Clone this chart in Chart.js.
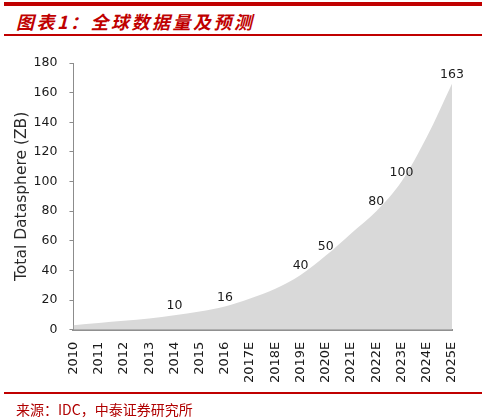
<!DOCTYPE html>
<html>
<head>
<meta charset="utf-8">
<script src="https://cdn.jsdelivr.net/npm/chart.js@4"></script>
<style>
  html, body { margin: 0; padding: 0; background: #fff; }
  body { width: 486px; height: 419px; position: relative; overflow: hidden; }
  .line { position: absolute; left: 4px; width: 478px; background: #c00000; }
  #title {
    position: absolute; left: 16px; top: 8px;
    font-family: "Noto Sans CJK SC", sans-serif; font-weight: bold; font-style: italic;
    font-size: 18px; letter-spacing: 2.5px; color: #c00000; line-height: 26px;
  }
  #source {
    position: absolute; left: 16px; top: 399px;
    font-family: "Noto Sans CJK SC", sans-serif; font-size: 14px; color: #b00000; line-height: 20px;
  }
  #wrap { position: absolute; left: 0; top: 40px; width: 486px; height: 355px; }
</style>
</head>
<body>
<div class="line" style="top:2px;height:4px"></div>
<div id="title">图表1：全球数据量及预测</div>
<div class="line" style="top:34px;height:2px"></div>
<div id="wrap"><canvas id="chart"></canvas></div>
<div class="line" style="top:392px;height:1.5px"></div>
<div id="source">来源：IDC，中泰证券研究所</div>

<script>
// años y datos (ZB)
const years = ["2010", "2011", "2012", "2013", "2014", "2015", "2016", "2017E",
  "2018E", "2019E", "2020E", "2021E", "2022E", "2023E", "2024E", "2025E"];
const datasphere = [3, 4.5, 6, 7.6, 9.8, 12.3, 15.7, 21, 27.6, 37, 50, 65, 80, 100, 130, 166];
// etiquetas que se muestran sobre el área
const valueLabels = [null, null, null, null, "10", null, "16", null,
  null, "40", "50", null, "80", "100", null, "163"];
const yTicks = { min: 0, max: 180, step: 20 };

const fontFamily = '"DejaVu Sans", Verdana, sans-serif';

// dibujar las etiquetas de valor
const valueLabelPlugin = {
  id: "valueLabels",
  afterDatasetsDraw(chart) {
    const ctx = chart.ctx;
    const meta = chart.getDatasetMeta(0);
    ctx.save();
    ctx.font = "12.5px " + fontFamily;
    ctx.fillStyle = "#1a1a1a";
    ctx.textAlign = "center";
    ctx.textBaseline = "middle";
    meta.data.forEach((pt, i) => {
      if (valueLabels[i] == null) return;
      ctx.fillText(valueLabels[i], pt.x, pt.y - 9);
    });
    ctx.restore();
  }
};

new Chart(document.getElementById("chart"), {
  type: "line",
  data: {
    labels: years,
    datasets: [{
      data: datasphere,
      fill: "origin",
      backgroundColor: "#d9d9d9",
      borderWidth: 0,
      pointRadius: 0,
      tension: 0.4,
      cubicInterpolationMode: "monotone"
    }]
  },
  options: {
    responsive: true,
    maintainAspectRatio: false,
    animation: false,
    layout: { padding: { left: 13, right: 34, top: 23, bottom: 0 } },
    plugins: {
      legend: { display: false },
      tooltip: { enabled: false }
    },
    scales: {
      x: {
        offset: false,
        grid: { display: false, drawTicks: false },
        border: { display: true, color: "#909090", width: 2 },
        ticks: {
          autoSkip: false,
          maxRotation: 90,
          minRotation: 90,
          padding: 12,
          color: "#1a1a1a",
          font: { family: fontFamily, size: 13 }
        }
      },
      y: {
        min: yTicks.min,
        max: yTicks.max,
        grid: { drawOnChartArea: false, drawTicks: true, tickLength: 4, color: "#8c8c8c" },
        border: { color: "#8c8c8c", width: 1 },
        ticks: {
          stepSize: yTicks.step,
          padding: 12,
          color: "#1a1a1a",
          font: { family: fontFamily, size: 12.5 }
        },
        title: {
          display: true,
          text: "Total Datasphere (ZB)",
          color: "#2a2a2a",
          padding: { top: 0, bottom: -10 },
          font: { family: fontFamily, size: 15.5 }
        }
      }
    }
  },
  plugins: [valueLabelPlugin]
});
</script>
</body>
</html>
